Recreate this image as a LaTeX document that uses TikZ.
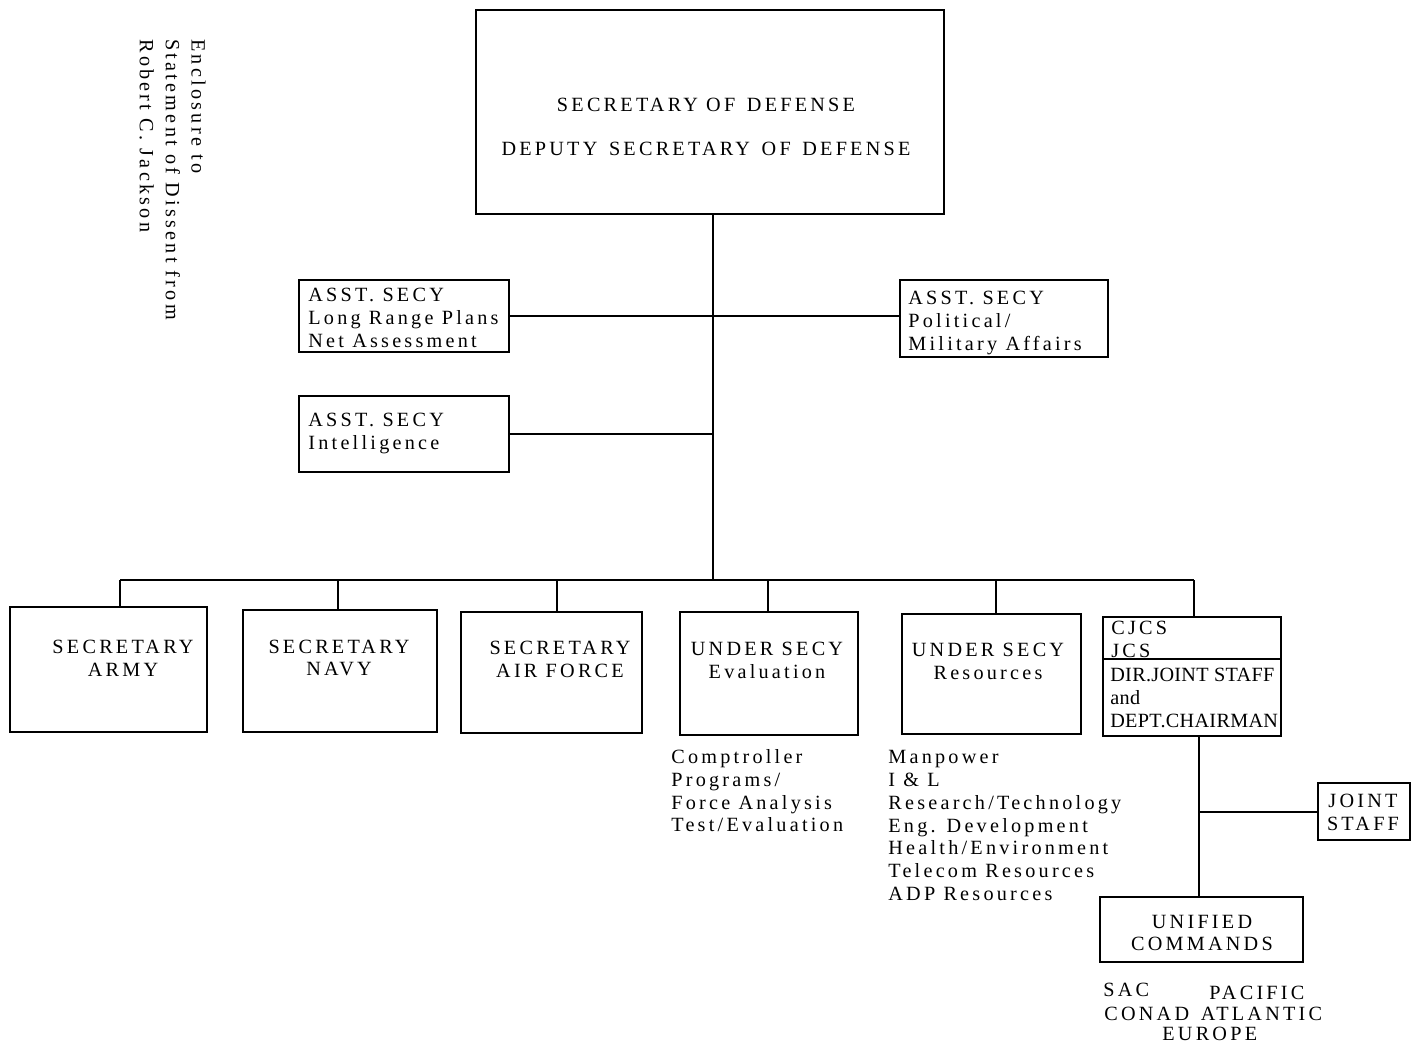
\documentclass[tikz,border=0pt]{standalone}
\usepackage{fontspec}
\setmainfont{Liberation Serif}[LetterSpace=16]
\newfontfamily\tightfont{Liberation Serif}[LetterSpace=1.5]
\tikzset{>=stealth}
\tikzset{box/.style 2 args={draw, line width=1pt, inner sep=0pt, minimum width=#1*0.02cm, minimum height=#2*0.02cm}}
\tikzset{txt/.style={inner sep=0pt, font=\fontsize{11.5}{13}\selectfont}}

\begin{document}
\begin{tikzpicture}[x=0.02cm,y=-0.02cm]
    \useasboundingbox (0,0) rectangle (1419,1043);
    \node[txt, rotate=-90, anchor=north west, align=left, font=\fontsize{11.5}{14.7}\selectfont] (note) at (206,39) {Enclosure to\\Statement of Dissent from\\Robert C. Jackson};
    \node[box={468}{204}] (secdef) at (710,112) {};
    \node[txt, align=center] (secdeft) at (706,127) {SECRETARY OF \,DEFENSE\\[12.5pt]DEPUTY \,SECRETARY \,OF \,DEFENSE};
    \node[box={210}{72}] (lrp) at (404,316) {};
    \node[txt, align=left, anchor=north west] (lrpt) at (308,288) {ASST. SECY\\Long Range Plans\\Net Assessment};
    \node[box={208}{77}] (pol) at (1004,318.5) {};
    \node[txt, align=left, anchor=north west] (polt) at (908,291) {ASST. SECY\\Political/\\Military Affairs};
    \node[box={210}{76}] (intel) at (404,434) {};
    \node[txt, align=left, anchor=north west] (intelt) at (308,413) {ASST. SECY\\Intelligence};
    \coordinate (hub) at (713,580);
    \draw[line width=1pt] (secdef.south -| hub) -- (hub);
    \draw[line width=1pt] (lrp.east) -- (lrp.east -| pol.west);
    \draw[line width=1pt] (intel.east) -- (intel.east -| hub);
    \node[box={197}{125}] (army) at (108.5,669.5) {};
    \node[txt, align=center] (armyt) at (123,658) {SECRETARY\\ARMY};
    \node[box={194}{122}] (navy) at (340,671) {};
    \node[txt, align=center] (navyt) at (339,658) {SECRETARY\\NAVY};
    \node[box={181}{121}] (airf) at (551.5,672.5) {};
    \node[txt, align=center] (airft) at (560,659) {SECRETARY\\AIR FORCE};
    \node[box={178}{123}] (eval) at (769,673.5) {};
    \node[txt, align=center] (evalt) at (767,660) {UNDER SECY\\Evaluation};
    \node[box={179}{120}] (res) at (991.5,674) {};
    \node[txt, align=center] (rest) at (988,661) {UNDER SECY\\Resources};
    \node[box={178}{42}] (cjcs) at (1192,638) {};
    \node[txt, align=left, anchor=north west] (cjcst) at (1111,621) {CJCS\\JCS};
    \node[box={178}{77}] (dir) at (1192,697.5) {};
    \node[txt, align=left, anchor=north west, font=\fontsize{11.5}{13}\tightfont] (dirt) at (1110,668) {DIR.JOINT STAFF\\and\\DEPT.CHAIRMAN};
    \coordinate (busw) at (120,580);
    \coordinate (buse) at (1194,580);
    \draw[line width=1pt] (busw) -- (buse);
    \foreach \n/\x in {army/120, navy/338, airf/557, eval/768, res/996, cjcs/1194}{
        \coordinate (d\n) at (\x,580);
        \draw[line width=1pt] (d\n) -- (d\n |- \n.north);
    }
    \node[txt, align=left, anchor=north west] (evallist) at (671,749) {Comptroller\\Programs/\\Force Analysis\\Test/Evaluation};
    \node[txt, align=left, anchor=north west] (reslist) at (888,750) {Manpower\\I \& L\\Research/Technology\\Eng. Development\\Health/Environment\\Telecom Resources\\ADP Resources};
    \node[box={92}{57}] (joint) at (1364,811.5) {};
    \node[txt, align=center] (jointt) at (1363,812) {JOINT\\STAFF};
    \node[box={203}{65}] (unified) at (1201.5,929.5) {};
    \node[txt, align=center] (unifiedt) at (1202,933) {UNIFIED\\COMMANDS};
    \coordinate (jv) at (1199,812);
    \draw[line width=1pt] (jv |- dir.south) -- (jv |- unified.north);
    \draw[line width=1pt] (jv) -- (jv -| joint.west);
    \node[txt, anchor=base west] (sac) at (1103,996) {SAC};
    \node[txt, anchor=base west] (pacific) at (1209,999) {PACIFIC};
    \node[txt, anchor=base west] (conad) at (1104,1020) {CONAD \,ATLANTIC};
    \node[txt, anchor=base west] (europe) at (1162,1040) {EUROPE};
\end{tikzpicture}
\end{document}
